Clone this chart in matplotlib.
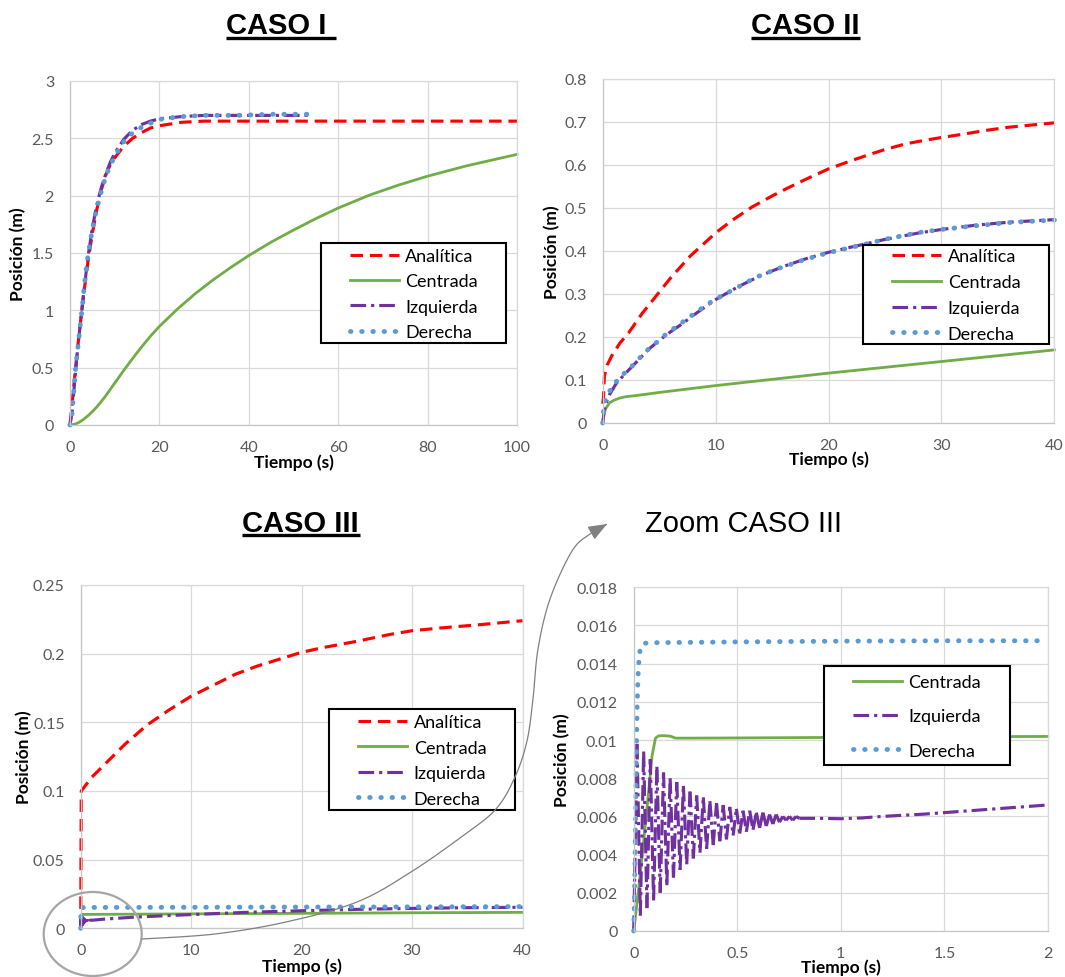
import numpy as np
import matplotlib
matplotlib.use('Agg')
import matplotlib.pyplot as plt
from matplotlib.lines import Line2D
from matplotlib.patches import Rectangle, Ellipse, FancyArrowPatch
from matplotlib.path import Path
from matplotlib.collections import LineCollection

plt.rcParams['font.family'] = ['Lato', 'DejaVu Sans']

W, H = 1065, 978
DPI = 100

# ---------------- data ----------------
# CASO I
t1_an = [0, 1, 2, 3, 4, 5, 6, 7, 8, 9, 10, 12, 14, 16, 18, 20, 25, 30, 40, 50, 60, 70, 80, 90, 100]
y1_an = [0, 0.40, 0.78, 1.12, 1.42, 1.67, 1.88, 2.05, 2.18, 2.27, 2.33, 2.43, 2.50, 2.55, 2.59, 2.61,
         2.64, 2.65, 2.65, 2.65, 2.65, 2.65, 2.65, 2.65, 2.65]
t1_cen = [0, 1, 2, 3, 4, 5, 6, 7, 8, 9, 10, 11, 12, 14, 16, 18, 20, 24, 28, 32, 36, 40, 45, 50, 55,
          60, 67, 73.7, 80, 88.7, 100]
y1_cen = [0, 0.006, 0.022, 0.048, 0.080, 0.117, 0.158, 0.205, 0.255, 0.310, 0.365, 0.420, 0.475,
          0.580, 0.680, 0.775, 0.860, 1.010, 1.145, 1.265, 1.375, 1.478, 1.595, 1.700, 1.800, 1.892,
          2.005, 2.095, 2.170, 2.260, 2.360]
t1_izq = [0, 0.5, 1, 1.5, 2, 3, 4, 5, 6, 7, 8, 9, 10, 12, 14, 16, 18, 20, 25, 30, 40, 54]
y1_izq = [0, 0.12, 0.36, 0.58, 0.77, 1.13, 1.46, 1.72, 1.92, 2.07, 2.19, 2.29, 2.37, 2.49, 2.57,
          2.62, 2.65, 2.67, 2.69, 2.70, 2.70, 2.70]
t1_der = [0, 0.45, 0.83, 1.21, 1.74, 2.27, 2.80, 3.25, 3.85, 4.61, 5.52, 6.73, 8.09, 10.05, 12.7,
          16.5, 20.6, 25.2, 29.7, 37.3, 44.8, 54.3]
y1_der = [0, 0.10, 0.285, 0.48, 0.67, 0.86, 1.05, 1.24, 1.43, 1.62, 1.81, 2.00, 2.18, 2.35, 2.51,
          2.61, 2.67, 2.69, 2.70, 2.70, 2.71, 2.71]

# CASO II
t2_an = [0, 0.06, 0.15, 0.4, 0.82, 1.5, 2.33, 3.5, 4.75, 6, 7.78, 9, 10.04, 11.5, 13.2, 15, 16.5,
         18, 20, 22, 23.8, 25, 26.8, 28, 30, 32, 33.8, 36, 40]
y2_an = [0.045, 0.056, 0.109, 0.135, 0.157, 0.185, 0.211, 0.255, 0.296, 0.337, 0.389, 0.418, 0.443,
         0.472, 0.502, 0.528, 0.548, 0.567, 0.591, 0.610, 0.626, 0.636, 0.649, 0.655, 0.664, 0.672,
         0.680, 0.688, 0.698]
t2_cen = [0, 0.1, 0.3, 0.6, 1, 1.5, 2, 3, 5, 10, 20, 30, 40]
y2_cen = [0, 0.02, 0.035, 0.047, 0.053, 0.058, 0.061, 0.064, 0.071, 0.087, 0.116, 0.143, 0.170]
t2_izq = [0, 0.2, 0.6, 1.2, 2, 3, 4, 5, 6, 7, 8, 10, 12, 14, 16, 18, 20, 22, 25, 28, 30, 33, 36, 40]
y2_izq = [0, 0.04, 0.066, 0.092, 0.115, 0.142, 0.170, 0.192, 0.212, 0.230, 0.250, 0.287, 0.317,
          0.343, 0.364, 0.382, 0.397, 0.409, 0.427, 0.442, 0.450, 0.460, 0.467, 0.473]
t2_der = [0, 0.06, 0.15, 0.51, 1.12, 1.72, 2.48, 3.84, 4.59, 5.35, 6.10, 7.61, 9.27, 10.0, 11.7,
          13.5, 15.3, 18.0, 20.0, 22.6, 25.3, 28.0, 30.0, 32.8, 35.9, 40]
y2_der = [0, 0.024, 0.047, 0.070, 0.094, 0.111, 0.129, 0.167, 0.183, 0.201, 0.216, 0.245, 0.276,
          0.288, 0.312, 0.338, 0.357, 0.381, 0.396, 0.412, 0.429, 0.443, 0.450, 0.458, 0.466, 0.472]

# Zoom CASO III (0 - 2 s)
t4_cen = [0, 0.024, 0.049, 0.073, 0.089, 0.105, 0.12, 0.137, 0.16, 0.178, 0.202, 0.25, 0.5, 1.0, 1.5, 2.0]
y4_cen = [0, 0.0022, 0.0048, 0.0074, 0.0092, 0.0101, 0.01022, 0.01023, 0.01022, 0.0102, 0.0101,
          0.0101, 0.01011, 0.01014, 0.01017, 0.01019]
t4_izq = [0.000, 0.016, 0.032, 0.048, 0.064, 0.080, 0.096, 0.112, 0.128, 0.144, 0.160, 0.176, 0.192,
          0.208, 0.224, 0.240, 0.256, 0.272, 0.288, 0.304, 0.320, 0.336, 0.352, 0.368, 0.384, 0.400,
          0.416, 0.432, 0.448, 0.464, 0.480, 0.496, 0.512, 0.528, 0.544, 0.560, 0.576, 0.592, 0.608,
          0.624, 0.640, 0.656, 0.672, 0.688, 0.704, 0.720, 0.736, 0.752, 0.768, 0.784, 0.800,
          0.9, 1.0, 1.1, 1.2, 1.3, 1.4, 1.5, 1.6, 1.7, 1.8, 1.9, 2.0]
y4_izq = [0.0000, 0.0098, 0.0008, 0.0094, 0.0012, 0.0090, 0.0016, 0.0086, 0.0020, 0.0083, 0.0024,
          0.0080, 0.0028, 0.0078, 0.0032, 0.0076, 0.0035, 0.0073, 0.0038, 0.0071, 0.0041, 0.0070,
          0.0043, 0.0068, 0.0045, 0.0067, 0.0047, 0.0066, 0.0048, 0.0065, 0.0050, 0.0064, 0.0051,
          0.0063, 0.0052, 0.0063, 0.0053, 0.0062, 0.0054, 0.0062, 0.0055, 0.0061, 0.0056, 0.0061,
          0.0057, 0.0060, 0.0058, 0.0060, 0.0058, 0.0060, 0.0059,
          0.00590, 0.00588, 0.00592, 0.00600, 0.00606, 0.00612, 0.00620, 0.00628, 0.00636, 0.00644,
          0.00652, 0.00660]
t4_der = [0, 0.004, 0.008, 0.012, 0.016, 0.021, 0.027, 0.035, 0.05, 0.1, 0.5, 1.0, 1.5, 2.0]
y4_der = [0, 0.002, 0.005, 0.0085, 0.0115, 0.0134, 0.0145, 0.0149, 0.01507, 0.0151, 0.01514,
          0.01518, 0.0152, 0.0152]
t_osc_end = 0.8   # end of the oscillating part of "Izquierda"

# CASO III (later times, appended to the zoom data)
t3_an = [0, 0.05, 1, 2, 3, 4, 5, 6, 8, 10, 12, 14, 16, 18, 20, 22, 25, 28, 30, 33, 36, 40]
y3_an = [0, 0.100, 0.110, 0.118, 0.126, 0.134, 0.141, 0.148, 0.159, 0.169, 0.177, 0.185, 0.191,
         0.196, 0.201, 0.2045, 0.209, 0.214, 0.2167, 0.219, 0.221, 0.224]
t3_cen_late = [5, 10, 20, 30, 40]
y3_cen_late = [0.0103, 0.0105, 0.0109, 0.0113, 0.0116]
t3_izq_late = [5, 10, 15, 20, 25, 30, 35, 40]
y3_izq_late = [0.0082, 0.0100, 0.0116, 0.0128, 0.0138, 0.0145, 0.0150, 0.0153]
t3_der_late = [10, 20, 30, 40]
y3_der_late = [0.0153, 0.0155, 0.0156, 0.0158]

x1_ticks = [0, 20, 40, 60, 80, 100]
x1_labels = ['0', '20', '40', '60', '80', '100']
y1_ticks = [0, 0.5, 1, 1.5, 2, 2.5, 3]
y1_labels = ['0', '0.5', '1', '1.5', '2', '2.5', '3']
x2_ticks = [0, 10, 20, 30, 40]
x2_labels = ['0', '10', '20', '30', '40']
y2_ticks = [0, 0.1, 0.2, 0.3, 0.4, 0.5, 0.6, 0.7, 0.8]
y2_labels = ['0', '0.1', '0.2', '0.3', '0.4', '0.5', '0.6', '0.7', '0.8']
x3_ticks = [0, 10, 20, 30, 40]
x3_labels = ['0', '10', '20', '30', '40']
y3_ticks = [0, 0.05, 0.1, 0.15, 0.2, 0.25]
y3_labels = ['0', '0.05', '0.1', '0.15', '0.2', '0.25']
x4_ticks = [0, 0.5, 1, 1.5, 2]
x4_labels = ['0', '0.5', '1', '1.5', '2']
y4_ticks = [0, 0.002, 0.004, 0.006, 0.008, 0.01, 0.012, 0.014, 0.016, 0.018]
y4_labels = ['0', '0.002', '0.004', '0.006', '0.008', '0.01', '0.012', '0.014', '0.016', '0.018']

# ---------------- styles ----------------
STY = {
    'Analítica': dict(color='#FF0000', lw=2.25, ls=(0, (4, 2.2))),
    'Centrada': dict(color='#70AD47', lw=2.0, ls='-'),
    'Izquierda': dict(color='#7030A0', lw=2.25, ls=(0, (5, 1.6, 1, 1.6))),
    'Derecha': dict(color='#5B9BD5', lw=3.5, ls=(0, (0.1, 2.2)), dash_capstyle='round'),
}

fig = plt.figure(figsize=(W / DPI, H / DPI), dpi=DPI)
fig.patch.set_facecolor('white')


def fx(x):
    return x / W


def fy(y):
    return 1 - y / H


def make_axes(l, r, t, b):
    return fig.add_axes([l / W, 1 - b / H, (r - l) / W, (b - t) / H])


def style_axes(ax, box, xlim, ylim, xt, xtl, yt, ytl, ylab_x, xlab_y):
    l, r, t, b = box
    ax.set_xlim(xlim)
    ax.set_ylim(ylim)
    ax.set_xticks(xt)
    ax.set_xticklabels(xtl)
    ax.set_yticks(yt)
    ax.set_yticklabels(ytl)
    ax.tick_params(axis='both', length=0, labelsize=11.5, labelcolor='#595959')
    ax.tick_params(axis='y', pad=11.5)
    ax.tick_params(axis='x', pad=10.5)
    for s in ax.spines.values():
        s.set_color('#D9D9D9')
        s.set_linewidth(0.9)
    ax.spines['left'].set_color('#C6C6C6')
    ax.spines['bottom'].set_color('#C6C6C6')
    ax.grid(True, color='#D9D9D9', lw=0.9)
    ax.set_axisbelow(True)
    ax.set_xlabel('Tiempo (s)', fontsize=12.5, fontweight='bold', color='black')
    ax.xaxis.set_label_coords(0.5, -(xlab_y - b) / (b - t))
    ax.xaxis.label.set_va('center')
    ax.set_ylabel('Posición (m)', fontsize=12.5, fontweight='bold', color='black')
    ax.yaxis.set_label_coords((ylab_x - l) / (r - l), 0.5)
    ax.yaxis.label.set_va('center')


def plot_series(ax, name, t, y):
    s = STY[name]
    kw = dict(color=s['color'], lw=s['lw'], ls=s['ls'], label=name, clip_on=False)
    if 'dash_capstyle' in s:
        kw['dash_capstyle'] = s['dash_capstyle']
    ax.plot(t, y, **kw)


def plot_series_restart(ax, name, t, y, t_end):
    """Oscillating part drawn segment by segment (dash pattern restarts at every
    data point, as the spreadsheet renderer does); the smooth tail as one path."""
    s = STY[name]
    pts = np.column_stack([t, y])
    k = int(np.searchsorted(np.asarray(t), t_end))
    segs = [pts[i:i + 2] for i in range(k)]
    segs.append(pts[k:])
    lc = LineCollection(segs, colors=s['color'], linewidths=s['lw'], linestyles=[s['ls']],
                        label=name, clip_on=False)
    ax.add_collection(lc)


def add_legend(ax, hx, mid_y, box, spacing_em):
    x0, y0, x1, y1 = box
    ax.add_patch(Rectangle((fx(x0), fy(y1)), (x1 - x0) / W, (y1 - y0) / H, transform=fig.transFigure,
                           facecolor='white', edgecolor='black', lw=1.5, zorder=4, clip_on=False))
    leg = ax.legend(loc='center left', bbox_to_anchor=(fx(hx), fy(mid_y)), bbox_transform=fig.transFigure,
                    frameon=False, borderpad=0, borderaxespad=0, fontsize=13, handlelength=2.72,
                    handletextpad=0.35, labelspacing=spacing_em)
    leg.set_zorder(5)
    return leg


# ---------- CASO I ----------
b1 = (70, 517, 82, 426)
ax1 = make_axes(*b1)
plot_series(ax1, 'Analítica', t1_an, y1_an)
plot_series(ax1, 'Centrada', t1_cen, y1_cen)
plot_series(ax1, 'Izquierda', t1_izq, y1_izq)
plot_series(ax1, 'Derecha', t1_der, y1_der)
style_axes(ax1, b1, (0, 100), (0, 3), x1_ticks, x1_labels, y1_ticks, y1_labels, 18.6, 463)
add_legend(ax1, 350, 295, (320.8, 244, 506, 344), 0.52)

# ---------- CASO II ----------
b2 = (602.7, 1054.4, 80, 424)
ax2 = make_axes(*b2)
plot_series(ax2, 'Analítica', t2_an, y2_an)
plot_series(ax2, 'Centrada', t2_cen, y2_cen)
plot_series(ax2, 'Izquierda', t2_izq, y2_izq)
plot_series(ax2, 'Derecha', t2_der, y2_der)
style_axes(ax2, b2, (0, 40), (0, 0.8), x2_ticks, x2_labels, y2_ticks, y2_labels, 552.2, 460)
add_legend(ax2, 892.3, 296, (862.6, 246, 1049.3, 345), 0.54)

# ---------- CASO III ----------
b3 = (80.7, 522.5, 586, 929.3)
ax3 = make_axes(*b3)
plot_series(ax3, 'Analítica', t3_an, y3_an)
plot_series(ax3, 'Centrada', t4_cen + t3_cen_late, y4_cen + y3_cen_late)
plot_series_restart(ax3, 'Izquierda', t4_izq + t3_izq_late, y4_izq + y3_izq_late, t_osc_end)
plot_series(ax3, 'Derecha', t4_der + t3_der_late, y4_der + y3_der_late)
style_axes(ax3, b3, (0, 40), (0, 0.25), x3_ticks, x3_labels, y3_ticks, y3_labels, 24, 967)
add_legend(ax3, 358.2, 761.5, (329.3, 710, 515.4, 810.7), 0.52)

# ---------- Zoom CASO III ----------
b4 = (633.7, 1047.9, 588.3, 932)
ax4 = make_axes(*b4)
plot_series(ax4, 'Centrada', t4_cen, y4_cen)
plot_series_restart(ax4, 'Izquierda', t4_izq, y4_izq, t_osc_end)
plot_series(ax4, 'Derecha', t4_der, y4_der)
style_axes(ax4, b4, (0, 2), (0, 0.018), x4_ticks, x4_labels, y4_ticks, y4_labels, 561.8, 968)
add_legend(ax4, 853, 717.5, (823.9, 667, 1010, 766), 1.0)

# ---------- titles ----------
title_kw = dict(fontsize=21, family=['Liberation Sans', 'DejaVu Sans'], va='baseline', ha='left', color='black')
fig.text(fx(226), fy(34), 'CASO I', fontweight='bold', **title_kw)
fig.text(fx(751), fy(34), 'CASO II', fontweight='bold', **title_kw)
fig.text(fx(242), fy(532), 'CASO III', fontweight='bold', **title_kw)
fig.text(fx(645), fy(532), 'Zoom CASO III', **title_kw)
for (xa, xb, yy) in [(226, 336, 39), (751, 860, 39), (242, 359.6, 536)]:
    fig.add_artist(Line2D([fx(xa), fx(xb)], [fy(yy), fy(yy)], transform=fig.transFigure,
                          color='black', lw=2.4, solid_capstyle='butt'))

# ---------- ellipse + connecting arrow ----------
fig.add_artist(Ellipse((fx(92.7), fy(935)), 98 / W, 84 / H, transform=fig.transFigure,
                       fill=False, edgecolor='#A6A6A6', lw=1.6))

arrow_pts = [(142, 940), (215, 935), (286, 923), (357, 903), (411, 873), (464, 836), (496, 810),
             (515, 778), (527, 742), (533, 700), (538, 650), (550, 600), (572, 552), (590, 535),
             (607, 525)]


def catmull(pts, n=14):
    P = np.array(pts, float)
    P = np.vstack([P[0], P, P[-1]])
    out = []
    for i in range(1, len(P) - 2):
        p0, p1, p2, p3 = P[i - 1], P[i], P[i + 1], P[i + 2]
        for s in np.linspace(0, 1, n, endpoint=False):
            out.append(0.5 * ((2 * p1) + (-p0 + p2) * s + (2 * p0 - 5 * p1 + 4 * p2 - p3) * s ** 2
                              + (-p0 + 3 * p1 - 3 * p2 + p3) * s ** 3))
    out.append(P[-2])
    return np.array(out)


curve = catmull(arrow_pts)
verts = np.column_stack([curve[:, 0] / W, 1 - curve[:, 1] / H])
arrow = FancyArrowPatch(path=Path(verts), arrowstyle='-|>,head_length=1.15,head_width=0.45',
                        mutation_scale=10, color='#808080', lw=0.9, transform=fig.transFigure)
fig.add_artist(arrow)

fig.savefig('out.png', dpi=DPI, facecolor='white')
